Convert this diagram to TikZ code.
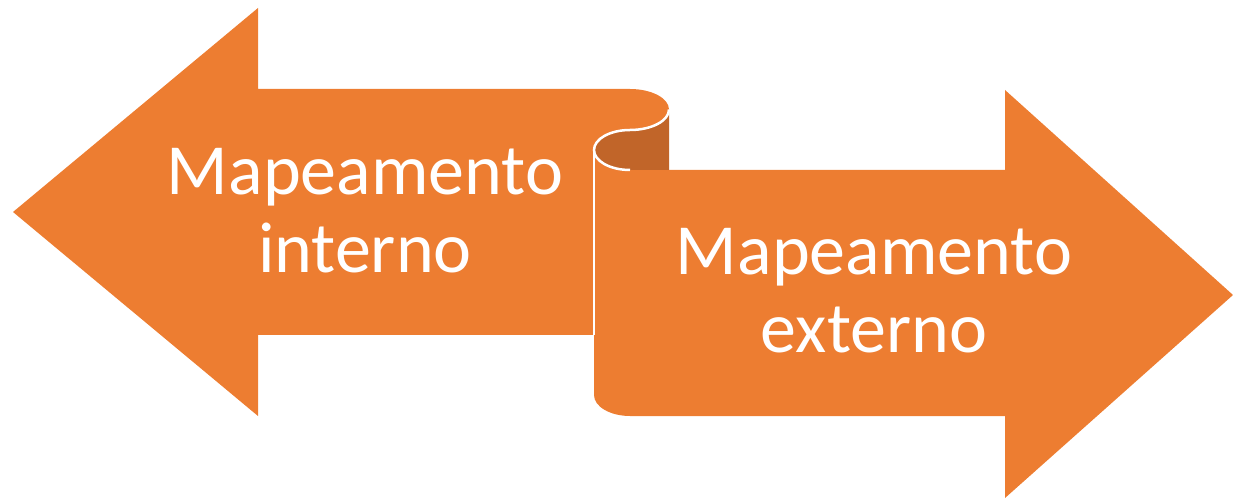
\documentclass[tikz,border=0pt]{standalone}
\usepackage{fontspec}
\setmainfont{Carlito}
\definecolor{orng}{RGB}{237,125,49}
\definecolor{dorng}{RGB}{193,101,41}
\begin{document}
\begin{tikzpicture}[x=1pt,y=1pt,
  arrowfill/.style={fill=orng,draw=none},
  rollfill/.style={fill=dorng,draw=none},
  edge/.style={draw=white,line width=2.5pt},
  lbl/.style={text=white,inner sep=0pt,anchor=base,font=\fontsize{72}{78}\selectfont}]
\useasboundingbox (0,0) rectangle (1233,498);
% right arrow
\path[arrowfill] (594,348) -- (594,103) arc[start angle=180,end angle=270,x radius=36,y radius=21]
  -- (1005,82) -- (1005,0) -- (1233,203) -- (1005,408) -- (1005,328) -- (630,328)
  arc[start angle=270,end angle=180,x radius=36,y radius=20] -- cycle;
% left arrow
\path[arrowfill] (13,286) -- (258,490) -- (258,409) -- (630,409)
  arc[start angle=90,end angle=-90,x radius=39,y radius=20.5]
  arc[start angle=90,end angle=180,x radius=36,y radius=20]
  -- (594,163) -- (258,163) -- (258,82) -- cycle;
% dark roll
\path[rollfill] (669,388.5) -- (669,328) -- (630,328)
  arc[start angle=270,end angle=90,x radius=36,y radius=20]
  arc[start angle=-90,end angle=0,x radius=39,y radius=20.5] -- cycle;
% white edges
\draw[edge] (669,388.5) arc[start angle=0,end angle=-90,x radius=39,y radius=20.5]
  arc[start angle=90,end angle=270,x radius=36,y radius=20];
\draw[edge] (594,348) -- (594,163);
% labels
\node[lbl] (l1) at (365,303) {Mapeamento};
\node[lbl] (l2) at (365,225) {interno};
\node[lbl] (r1) at (874,223) {Mapeamento};
\node[lbl] (r2) at (874,145) {externo};
\end{tikzpicture}
\end{document}
